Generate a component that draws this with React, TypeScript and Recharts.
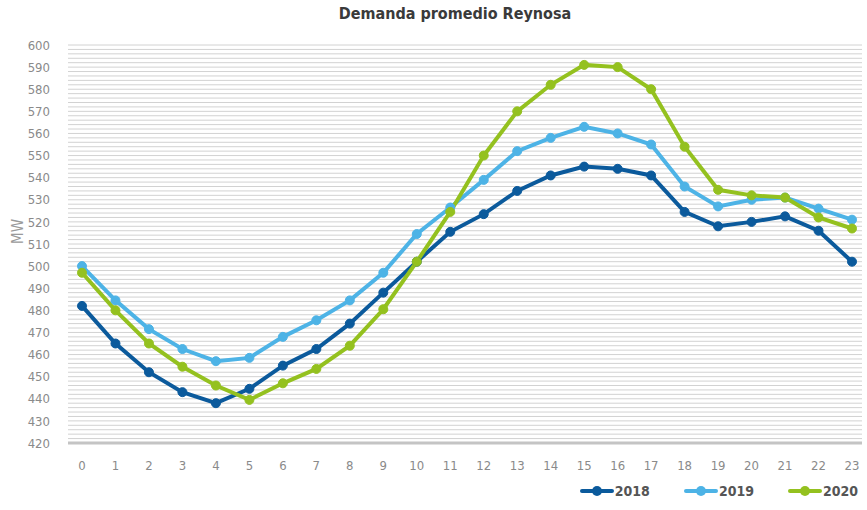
import React from 'react';
import { LineChart, Line, XAxis, YAxis, CartesianGrid, Legend } from 'recharts';

const hours = [0,1,2,3,4,5,6,7,8,9,10,11,12,13,14,15,16,17,18,19,20,21,22,23];
const d2018 = [482,465,452,443,438,444.5,455,462.5,474,488,502,515.5,523.5,534,541,545,544,541,524.5,518,520,522.5,516,502];
const d2019 = [500,484.5,471.5,462.5,457,458.5,468,475.5,484.5,497,514.5,526.5,539,552,558,563,560,555,536,527,530,531,526,521];
const d2020 = [497,480,465,454.5,446,439.5,447,453.5,464,480.5,502,524.5,550,570,582,591,590,580,554,534.5,532,531,522,517];
const yTicks: number[] = [];
for (let v = 420; v <= 600; v += 2) yTicks.push(v);

const data = hours.map((h, i) => ({ h, y2018: d2018[i], y2019: d2019[i], y2020: d2020[i] }));

const FONT = '"DejaVu Sans Condensed", "Liberation Sans Narrow", sans-serif';

const series = [
  { key: 'y2018', name: '2018', color: '#0b5a9c' },
  { key: 'y2019', name: '2019', color: '#4db3e6' },
  { key: 'y2020', name: '2020', color: '#94c11f' },
];

const LegendContent = () => (
  <div style={{ display: 'flex', justifyContent: 'flex-end', paddingRight: 4, paddingTop: 10, fontFamily: FONT, fontWeight: 'bold', fontSize: 14, color: '#555' }}>
    {series.map(s => (
      <div key={s.key} style={{ display: 'flex', alignItems: 'center', marginLeft: 34 }}>
        <svg width={34} height={12}>
          <line x1={2} y1={6} x2={32} y2={6} stroke={s.color} strokeWidth={4} strokeLinecap="round" />
          <circle cx={17} cy={6} r={5} fill={s.color} />
        </svg>
        <span style={{ marginLeft: 1 }}>{s.name}</span>
      </div>
    ))}
  </div>
);

export default function App() {
  return (
    <div style={{ position: 'absolute', left: 0, top: 0, width: 867, height: 510, background: '#fff' }}>
      <div style={{ position: 'absolute', top: 4, left: 0, width: 910, textAlign: 'center', fontFamily: FONT, fontWeight: 'bold', fontSize: 16, color: '#3a3a3a' }}>
        Demanda promedio Reynosa
      </div>
      <LineChart width={867} height={510} data={data} margin={{ top: 45, right: 5, left: 0, bottom: 5 }}>
        <CartesianGrid vertical={false} stroke="#d2d2d2" strokeWidth={1} />
        <XAxis dataKey="h" type="number" domain={[0, 23]} ticks={hours} padding={{ left: 14, right: 10 }}
          axisLine={{ stroke: '#c4c4c4', strokeWidth: 3 }} tickLine={false} tickMargin={12} height={30}
          tick={{ fill: '#8a8a8a', fontSize: 13, fontFamily: FONT }} />
        <YAxis domain={[420, 600]} ticks={yTicks} interval={0} width={68} axisLine={false} tickLine={false} tickMargin={12}
          tickFormatter={(v: number) => (v % 10 === 0 ? String(v) : '')}
          tick={{ fill: '#8a8a8a', fontSize: 13, fontFamily: FONT }}
          label={{ value: 'MW', angle: -90, position: 'insideLeft', offset: 18, style: { fill: '#9a9a9a', fontSize: 15, fontFamily: FONT } }} />
        <Legend verticalAlign="bottom" height={32} content={<LegendContent />} />
        {series.map(s => (
          <Line key={s.key} type="linear" dataKey={s.key} name={s.name} stroke={s.color} strokeWidth={4}
            dot={{ r: 4.5, fill: s.color, stroke: s.color, strokeWidth: 1 }} isAnimationActive={false} />
        ))}
      </LineChart>
    </div>
  );
}
